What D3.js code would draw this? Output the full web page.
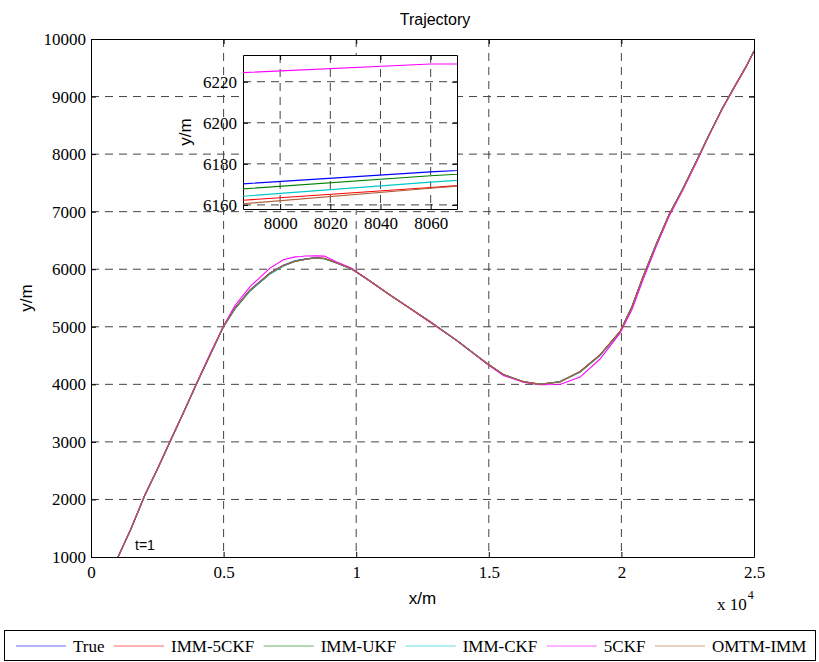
<!DOCTYPE html>
<html>
<head>
<meta charset="utf-8">
<script src="https://cdnjs.cloudflare.com/ajax/libs/d3/7.8.5/d3.min.js"></script>
<style>
  body { margin: 0; background: #fff; }
  svg { display: block; }
  .num { font-family: "Liberation Serif", "Times New Roman", serif; font-size: 17px; fill: #000; }
  .lbl { font-family: "Liberation Sans", Arial, sans-serif; fill: #000; }
  .grid line { stroke: #444; stroke-width: 1; stroke-dasharray: 8,6; }
</style>
</head>
<body>
<svg id="chart" width="819" height="662"></svg>
<script>
// x positions (m) shared by all the tracks
var xs = [1020, 1500, 2036, 2500, 2979, 3500, 4000, 4500, 4990, 5430, 5996, 6750, 7252, 7700,
          7940, 8060, 8200, 8450, 8800, 9265, 9831, 10500, 11275, 12784, 13800, 14922, 15549,
          16303, 16932, 17686, 18440, 19194, 19948, 20400, 20800, 21300, 21800, 22300, 22800,
          23300, 23800, 24300, 24700, 25000];

// y (m) of each track
var yTrue   = [1000, 1480, 2080, 2520, 3003, 3520, 4030, 4520, 5000, 5330, 5640, 5935, 6070, 6145,
               6166.7, 6176.1, 6185, 6197, 6186, 6110, 6004, 5800, 5552, 5088, 4760, 4365, 4170,
               4045, 4000, 4045, 4219, 4509, 4914, 5350, 5850, 6420, 6950, 7380, 7850,
               8330, 8790, 9200, 9520, 9790];
var yImm5ckf = [1000, 1485, 2075, 2525, 3000, 3525, 4025, 4525, 4995, 5320, 5630, 5925, 6060, 6138,
               6158.5, 6168.5, 6180, 6195, 6188, 6112, 6002, 5805, 5548, 5092, 4755, 4370, 4165,
               4048, 4003, 4040, 4225, 4512, 4920, 5345, 5855, 6415, 6955, 7375, 7855,
               8325, 8795, 9195, 9525, 9785];
var yImmUkf = [1000, 1478, 2082, 2518, 3005, 3518, 4032, 4518, 4998, 5310, 5622, 5920, 6058, 6140,
               6163.9, 6174.2, 6184, 6193, 6184, 6108, 6006, 5798, 5555, 5085, 4762, 4362, 4172,
               4042, 3998, 4048, 4215, 4505, 4910, 5355, 5845, 6425, 6945, 7385, 7845,
               8335, 8785, 9205, 9515, 9795];
var yImmCkf = [1000, 1482, 2078, 2522, 3002, 3522, 4028, 4522, 4996, 5315, 5625, 5918, 6055, 6137,
               6160.1, 6171.1, 6182, 6190, 6182, 6110, 6003, 5802, 5550, 5090, 4758, 4367, 4168,
               4044, 4001, 4044, 4210, 4500, 4905, 5340, 5840, 6418, 6948, 7382, 7848,
               8328, 8788, 9198, 9518, 9788];
var y5ckf   = [1000, 1484, 2085, 2530, 3010, 3530, 4040, 4540, 5010, 5370, 5698, 6020, 6165, 6215,
               6221.9, 6228.6, 6229, 6232, 6228, 6125, 6015, 5800, 5555, 5080, 4760, 4355, 4155,
               4035, 3992, 3998, 4125, 4440, 4890, 5300, 5800, 6380, 6920, 7360, 7830,
               8320, 8780, 9190, 9510, 9785];
var yOmtm   = [1000, 1480, 2080, 2520, 3003, 3520, 4030, 4520, 5000, 5325, 5635, 5930, 6065, 6140,
               6156.0, 6168.1, 6181, 6194, 6186, 6110, 6004, 5800, 5552, 5088, 4760, 4365, 4170,
               4045, 4000, 4045, 4219, 4509, 4914, 5350, 5850, 6420, 6950, 7380, 7850,
               8330, 8790, 9200, 9520, 9790];

var seriesNames  = ["True", "IMM-5CKF", "IMM-UKF", "IMM-CKF", "5CKF", "OMTM-IMM"];
var seriesColors = ["#0000ff", "#ff0000", "#008000", "#00c8c8", "#ff00ff", "#b0603a"];
var seriesY      = [yTrue, yImm5ckf, yImmUkf, yImmCkf, y5ckf, yOmtm];

// ticks
var xTicks = [0, 5000, 10000, 15000, 20000, 25000];
var xTickLabels = ["0", "0.5", "1", "1.5", "2", "2.5"];
var yTicks = [1000, 2000, 3000, 4000, 5000, 6000, 7000, 8000, 9000, 10000];
var insetXTicks = [8000, 8020, 8040, 8060];
var insetYTicks = [6160, 6180, 6200, 6220];

var svg = d3.select("#chart");

// main axes box
var x = d3.scaleLinear().domain([0, 25000]).range([91, 754]);
var y = d3.scaleLinear().domain([1000, 10000]).range([557, 39]);

// inset box
var xi = d3.scaleLinear().domain([7985.2, 8070.5]).range([243, 457]);
var yi = d3.scaleLinear().domain([6158, 6233]).range([209, 55]);

function drawframe(g, sx, sy, xt, yt, xfmt, xpad, ypad) {
  var x0 = sx.range()[0], x1 = sx.range()[1];
  var y0 = sy.range()[0], y1 = sy.range()[1];

  g.append("rect")
    .attr("x", x0).attr("y", y1)
    .attr("width", x1 - x0).attr("height", y0 - y1)
    .attr("fill", "#fff");

  // dashed grid, only inside the box
  var grid = g.append("g").attr("class", "grid");
  grid.selectAll(".gx")
    .data(xt.filter(function(d) { return sx(d) > x0 + 1 && sx(d) < x1 - 1; }))
    .enter().append("line")
      .attr("x1", function(d) { return sx(d); }).attr("x2", function(d) { return sx(d); })
      .attr("y1", y1).attr("y2", y0);
  grid.selectAll(".gy")
    .data(yt.filter(function(d) { return sy(d) < y0 - 1 && sy(d) > y1 + 1; }))
    .enter().append("line")
      .attr("y1", function(d) { return sy(d); }).attr("y2", function(d) { return sy(d); })
      .attr("x1", x0).attr("x2", x1);

  g.append("g").attr("transform", "translate(0," + y0 + ")")
    .call(d3.axisBottom(sx).tickValues(xt).tickSize(-5).tickSizeOuter(0).tickPadding(xpad).tickFormat(xfmt));
  g.append("g").attr("transform", "translate(" + x0 + ",0)")
    .call(d3.axisLeft(sy).tickValues(yt).tickSize(-5).tickSizeOuter(0).tickPadding(ypad).tickFormat(d3.format("d")));
  g.append("g").attr("transform", "translate(0," + y1 + ")")
    .call(d3.axisTop(sx).tickValues(xt).tickSize(-5).tickSizeOuter(0).tickFormat(""));
  g.append("g").attr("transform", "translate(" + x1 + ",0)")
    .call(d3.axisRight(sy).tickValues(yt).tickSize(-5).tickSizeOuter(0).tickFormat(""));

  g.selectAll(".tick text").attr("class", "num").attr("font-size", null).attr("font-family", null);
  g.selectAll(".tick line").attr("stroke", "#000");
  g.selectAll(".domain").attr("stroke", "#000");
}

function drawtracks(g, sx, sy, clipid) {
  var x0 = sx.range()[0], x1 = sx.range()[1];
  var y0 = sy.range()[0], y1 = sy.range()[1];
  svg.append("clipPath").attr("id", clipid)
    .append("rect").attr("x", x0).attr("y", y1).attr("width", x1 - x0).attr("height", y0 - y1);

  var line = d3.line()
    .x(function(d, i) { return sx(xs[i]); })
    .y(function(d) { return sy(d); });

  g.append("g").attr("clip-path", "url(#" + clipid + ")")
    .selectAll("path")
    .data(seriesY)
    .enter().append("path")
      .attr("d", line)
      .attr("fill", "none")
      .attr("stroke", function(d, i) { return seriesColors[i]; })
      .attr("stroke-width", 1.1);
}

// main plot
var main = svg.append("g");
drawframe(main, x, y, xTicks, yTicks, function(d, i) { return xTickLabels[i]; }, 9, 5);
drawtracks(main, x, y, "clipmain");

main.append("text").attr("class", "lbl")
  .attr("x", 135).attr("y", 550).attr("font-size", 14)
  .text("t=1");

svg.append("text").attr("class", "lbl")
  .attr("x", 435).attr("y", 25).attr("text-anchor", "middle").attr("font-size", 16)
  .text("Trajectory");
svg.append("text").attr("class", "lbl")
  .attr("x", 422.5).attr("y", 604).attr("text-anchor", "middle").attr("font-size", 17)
  .text("x/m");
svg.append("text").attr("class", "lbl")
  .attr("transform", "translate(32,298) rotate(-90)").attr("text-anchor", "middle").attr("font-size", 17)
  .text("y/m");

// x 10^4 exponent
var expo = svg.append("text").attr("class", "num").attr("x", 717).attr("y", 610);
expo.append("tspan").text("x 10");
expo.append("tspan").attr("font-size", 12).attr("dy", -11).attr("dx", 1).text("4");

// inset
var inset = svg.append("g");
drawframe(inset, xi, yi, insetXTicks, insetYTicks, d3.format("d"), 8, 6);
drawtracks(inset, xi, yi, "clipinset");
svg.append("text").attr("class", "lbl")
  .attr("transform", "translate(191,132) rotate(-90)").attr("text-anchor", "middle").attr("font-size", 17)
  .text("y/m");

// legend along the bottom
function addlegend() {
  var lg = svg.append("g");
  lg.append("rect")
    .attr("x", 4.5).attr("y", 630.5).attr("width", 811).attr("height", 30)
    .attr("fill", "#fff").attr("stroke", "#000");

  var xpos = 16;
  for (var i = 0; i < seriesNames.length; i++) {
    lg.append("line")
      .attr("x1", xpos).attr("x2", xpos + 50)
      .attr("y1", 646).attr("y2", 646)
      .attr("stroke", seriesColors[i]).attr("stroke-opacity", 0.6).attr("stroke-width", 1.2);
    var t = lg.append("text").attr("class", "num")
      .attr("x", xpos + 57).attr("y", 652)
      .text(seriesNames[i]);
    xpos = xpos + 57 + t.node().getComputedTextLength() + 9.5;
  }
}
addlegend();
</script>
</body>
</html>
